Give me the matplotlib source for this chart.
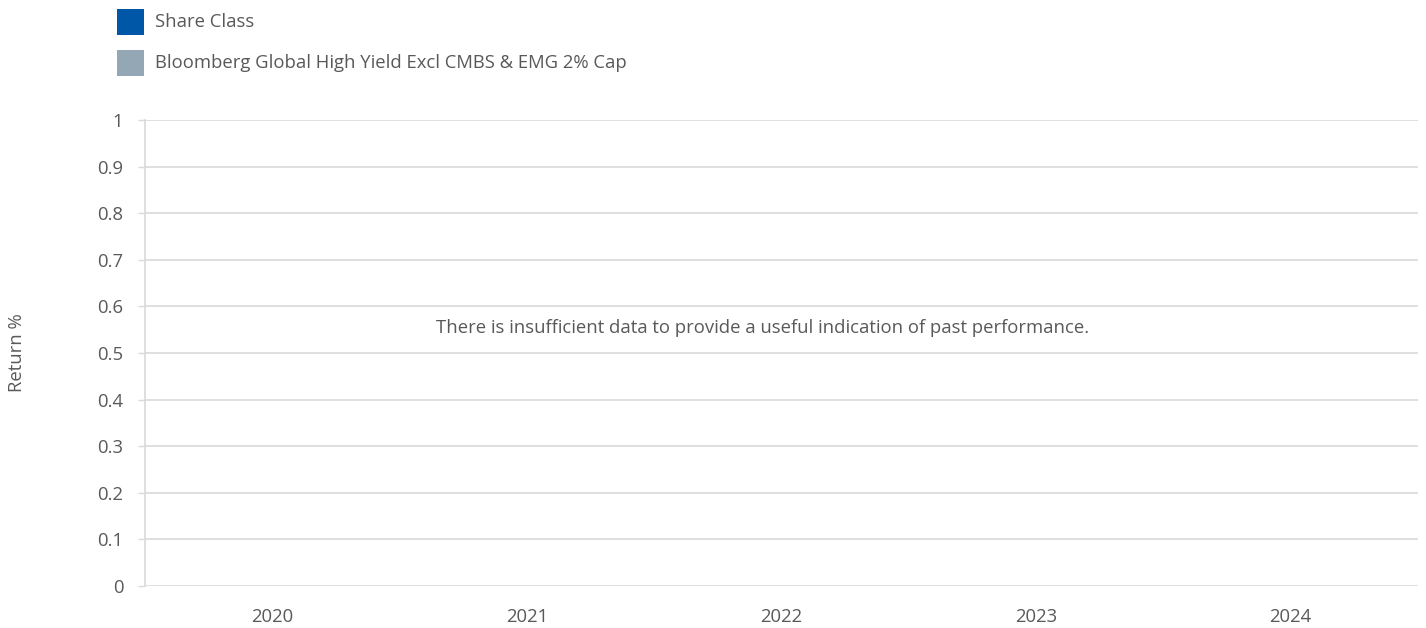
import numpy as np
import matplotlib
matplotlib.use('Agg')
import matplotlib.pyplot as plt
from matplotlib.patches import Rectangle

# Dados (sem valores: dados insuficientes)
years = ['2020', '2021', '2022', '2023', '2024']
share_class = [np.nan, np.nan, np.nan, np.nan, np.nan]
benchmark = [np.nan, np.nan, np.nan, np.nan, np.nan]
series_names = ['Share Class', 'Bloomberg Global High Yield Excl CMBS & EMG 2% Cap']
series_colors = ['#0057a8', '#93a7b5']
y_ticks = [0, 0.1, 0.2, 0.3, 0.4, 0.5, 0.6, 0.7, 0.8, 0.9, 1]
y_labels = ['0', '0.1', '0.2', '0.3', '0.4', '0.5', '0.6', '0.7', '0.8', '0.9', '1']
message = 'There is insufficient data to provide a useful indication of past performance.'

plt.rcParams['font.family'] = ['Open Sans', 'DejaVu Sans']
txt = '#595959'
grid = '#d9d9d9'
fs = 13.3

W, H = 1426, 628
fig = plt.figure(figsize=(W / 100, H / 100), dpi=100)
ax = fig.add_axes([145 / W, 1 - 586 / H, (1418 - 145) / W, (586 - 120) / H])

x = np.arange(len(years))
ax.bar(x - 0.18, share_class, width=0.35, color=series_colors[0])
ax.bar(x + 0.18, benchmark, width=0.35, color=series_colors[1])

ax.set_xlim(-0.5, len(years) - 0.5)
ax.set_ylim(0, 1)
ax.set_yticks(y_ticks)
ax.set_yticklabels(y_labels)
ax.set_xticks(x)
ax.set_xticklabels(years)
ax.tick_params(axis='y', length=5, width=1, color=grid, labelcolor=txt, labelsize=fs, pad=10.5)
ax.tick_params(axis='x', length=0, labelcolor=txt, labelsize=fs, pad=16)
ax.grid(axis='y', color=grid, linewidth=1.2)
ax.set_axisbelow(True)
for s in ['top', 'right', 'bottom']:
    ax.spines[s].set_visible(False)
ax.spines['left'].set_color(grid)
ax.spines['left'].set_linewidth(1.2)

fig.text(17 / W, 1 - 353 / H, 'Return %', rotation=90, ha='center', va='center',
         color=txt, fontsize=fs)
fig.text(763 / W, 1 - 328 / H, message, ha='center', va='center', color=txt, fontsize=fs)

# Legenda manual
for i, (name, col) in enumerate(zip(series_names, series_colors)):
    yc = 22 + i * 41
    fig.patches.append(Rectangle((117 / W, 1 - (yc + 13) / H), 27 / W, 26 / H,
                                 transform=fig.transFigure, facecolor=col, edgecolor='none'))
    fig.text(155 / W, 1 - yc / H, name, ha='left', va='center', color=txt, fontsize=fs)

fig.savefig('out.png', dpi=100)
